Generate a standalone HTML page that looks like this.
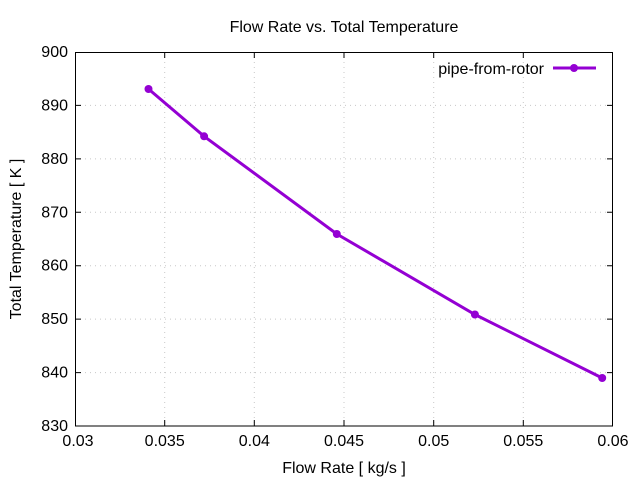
<!DOCTYPE html><html><head><style>body{margin:0;background:#fff}</style></head><body>
<svg width="640" height="480" xmlns="http://www.w3.org/2000/svg" font-family="Liberation Sans, sans-serif" font-size="16">
<rect width="640" height="480" fill="#fff"/>
<g stroke="#c8c8c8" stroke-dasharray="1,4" stroke-width="1">
<line x1="164.7" y1="52" x2="164.7" y2="426"/><line x1="254.3" y1="52" x2="254.3" y2="426"/><line x1="344" y1="52" x2="344" y2="426"/><line x1="433.7" y1="52" x2="433.7" y2="426"/><line x1="523.3" y1="52" x2="523.3" y2="426"/>
<line x1="75" y1="372.6" x2="613" y2="372.6"/><line x1="75" y1="319.1" x2="613" y2="319.1"/><line x1="75" y1="265.7" x2="613" y2="265.7"/><line x1="75" y1="212.3" x2="613" y2="212.3"/><line x1="75" y1="158.9" x2="613" y2="158.9"/><line x1="75" y1="105.4" x2="613" y2="105.4"/>
</g>
<g stroke="#000" stroke-width="1">
<rect x="75.5" y="52.5" width="537" height="373.5" fill="none"/>
<path d="M164.7 426v-6M254.3 426v-6M344 426v-6M433.7 426v-6M523.3 426v-6M164.7 52v6M254.3 52v6M344 52v6M433.7 52v6M523.3 52v6M75 372.6h6M75 319.1h6M75 265.7h6M75 212.3h6M75 158.9h6M75 105.4h6M613 372.6h-6M613 319.1h-6M613 265.7h-6M613 212.3h-6M613 158.9h-6M613 105.4h-6"/>
</g>
<g text-anchor="middle">
<text x="78" y="446">0.03</text><text x="164.7" y="446">0.035</text><text x="254.3" y="446">0.04</text><text x="344" y="446">0.045</text><text x="433.7" y="446">0.05</text><text x="523.3" y="446">0.055</text><text x="613" y="446">0.06</text>
<text x="344" y="473">Flow Rate [ kg/s ]</text>
<text x="344" y="32">Flow Rate vs. Total Temperature</text>
<text transform="translate(21,239) rotate(-90)">Total Temperature [ K ]</text>
</g>
<g text-anchor="end">
<text x="68" y="431">830</text><text x="68" y="377.6">840</text><text x="68" y="324.1">850</text><text x="68" y="270.7">860</text><text x="68" y="217.3">870</text><text x="68" y="163.9">880</text><text x="68" y="110.4">890</text><text x="68" y="57">900</text>
<text x="544" y="74">pipe-from-rotor</text>
</g>
<g stroke="#9400d3" stroke-width="3" fill="#9400d3">
<polyline fill="none" points="148.5,89 204.1,136.3 336.8,234 474.9,314.5 602.2,378"/>
<line x1="553" y1="68" x2="596" y2="68"/>
</g>
<g fill="#9400d3">
<circle cx="148.5" cy="89" r="4"/><circle cx="204.1" cy="136.3" r="4"/><circle cx="336.8" cy="234" r="4"/><circle cx="474.9" cy="314.5" r="4"/><circle cx="602.2" cy="378" r="4"/><circle cx="574" cy="68" r="4"/>
</g>
</svg></body></html>
